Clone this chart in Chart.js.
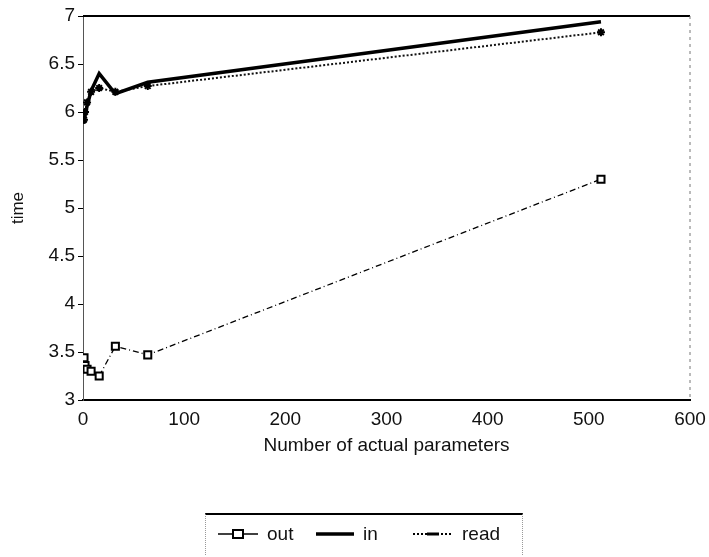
<!DOCTYPE html>
<html>
<head>
<meta charset="utf-8">
<script src="https://cdn.jsdelivr.net/npm/chart.js@4.4.1/dist/chart.umd.min.js"></script>
<style>
  html, body { margin: 0; padding: 0; background: #fff; }
  #wrap { position: relative; width: 709px; height: 557px; }
  #legend {
    position: absolute; left: 205px; top: 513px; width: 318px; height: 42px;
    border-top: 2px solid #000; border-left: 1px dotted #999; border-right: 1px dotted #999;
    box-sizing: border-box; font-family: "Liberation Sans", Arial, sans-serif; font-size: 19px; color: #111;
  }
  .item { position: absolute; top: 7px; display: flex; align-items: center; height: 24px; }
  .item svg { margin-right: 9px; }
</style>
</head>
<body>
<div id="wrap">
  <canvas id="c"></canvas>
  <div id="legend"></div>
</div>
<script>
var xValues = [1, 2, 4, 8, 16, 32, 64, 512];
var outTimes = [3.44, 3.36, 3.32, 3.30, 3.25, 3.56, 3.47, 5.30];
var inTimes = [5.88, 5.96, 6.06, 6.22, 6.40, 6.19, 6.31, 6.94];
var readTimes = [5.92, 6.00, 6.10, 6.21, 6.25, 6.21, 6.27, 6.83];
var seriesNames = ["out", "in", "read"];

function pairs(ys) {
  return xValues.map(function (x, i) { return { x: x, y: ys[i] }; });
}

var FONT = "'Liberation Sans', Arial, sans-serif";

// top solid line and right dashed line of the frame
var framePlugin = {
  id: "frame",
  afterDraw: function (chart) {
    var a = chart.chartArea, ctx = chart.ctx;
    ctx.save();
    ctx.strokeStyle = "#000";
    ctx.lineWidth = 2;
    ctx.beginPath();
    ctx.moveTo(a.left, a.top);
    ctx.lineTo(a.right, a.top);
    ctx.stroke();
    ctx.lineWidth = 1;
    ctx.strokeStyle = "#777";
    ctx.setLineDash([3, 4]);
    ctx.beginPath();
    ctx.moveTo(a.right, a.top);
    ctx.lineTo(a.right, a.bottom);
    ctx.stroke();
    ctx.restore();
  }
};

new Chart(document.getElementById("c"), {
  type: "line",
  data: {
    datasets: [
      {
        label: seriesNames[0],
        data: pairs(outTimes),
        borderColor: "#000",
        borderWidth: 1.3,
        borderDash: [6, 3, 1, 3],
        pointStyle: "rect",
        pointRadius: 5,
        pointBorderWidth: 2,
        pointBackgroundColor: "#fff",
        pointBorderColor: "#000",
        tension: 0
      },
      {
        label: seriesNames[1],
        data: pairs(inTimes),
        borderColor: "#000",
        borderWidth: 3.5,
        pointRadius: 0,
        tension: 0
      },
      {
        label: seriesNames[2],
        data: pairs(readTimes),
        borderColor: "#111",
        borderWidth: 2,
        borderDash: [2, 2],
        pointStyle: "star",
        pointRadius: 4,
        pointBorderWidth: 2,
        pointBorderColor: "#000",
        pointBackgroundColor: "#000",
        tension: 0
      }
    ]
  },
  options: {
    responsive: true,
    maintainAspectRatio: false,
    animation: false,
    layout: { padding: { top: 16, right: 19, bottom: 0, left: 0 } },
    plugins: { legend: { display: false }, tooltip: { enabled: false } },
    scales: {
      x: {
        type: "linear",
        min: 0,
        max: 600,
        ticks: { stepSize: 100, color: "#111", padding: 8, font: { family: FONT, size: 19 } },
        grid: { display: true, drawOnChartArea: false, drawTicks: false },
        border: { display: true, color: "#000", width: 2 },
        title: {
          display: true,
          text: "Number of actual parameters",
          color: "#111",
          font: { family: FONT, size: 19 },
          padding: { top: 0, bottom: 100 }
        },
        afterFit: function (s) {
          s.height = 157;
          s.paddingRight = 0;
          s.paddingLeft = 0;
        }
      },
      y: {
        min: 3,
        max: 7,
        ticks: {
          stepSize: 0.5,
          color: "#111",
          padding: 3,
          font: { family: FONT, size: 19 },
          callback: function (v) { return String(v); }
        },
        grid: { drawOnChartArea: false, drawTicks: true, tickLength: 5, color: "#000" },
        border: { display: true, color: "#555", width: 1, dash: [4, 3] },
        title: {
          display: true,
          text: "time",
          color: "#111",
          font: { family: FONT, size: 17 },
          padding: { top: 8, bottom: 0 }
        },
        afterFit: function (s) { s.width = 83; }
      }
    }
  },
  plugins: [framePlugin]
});

// legend below the chart
var legendItems = [
  { left: 12, svg: '<svg width="40" height="12"><line x1="0" y1="6" x2="40" y2="6" stroke="#000" stroke-width="1.5"/><rect x="15" y="2" width="10" height="8" fill="#fff" stroke="#000" stroke-width="2"/></svg>' },
  { left: 110, svg: '<svg width="38" height="12"><line x1="0" y1="6" x2="38" y2="6" stroke="#000" stroke-width="3.5"/></svg>' },
  { left: 207, svg: '<svg width="40" height="12"><line x1="0" y1="6" x2="40" y2="6" stroke="#000" stroke-width="2" stroke-dasharray="2,2"/><line x1="14" y1="6" x2="26" y2="6" stroke="#000" stroke-width="3"/></svg>' }
];
var legend = document.getElementById("legend");
legendItems.forEach(function (it, i) {
  var d = document.createElement("div");
  d.className = "item";
  d.style.left = it.left + "px";
  d.innerHTML = it.svg + "<span>" + seriesNames[i] + "</span>";
  legend.appendChild(d);
});
</script>
</body>
</html>
